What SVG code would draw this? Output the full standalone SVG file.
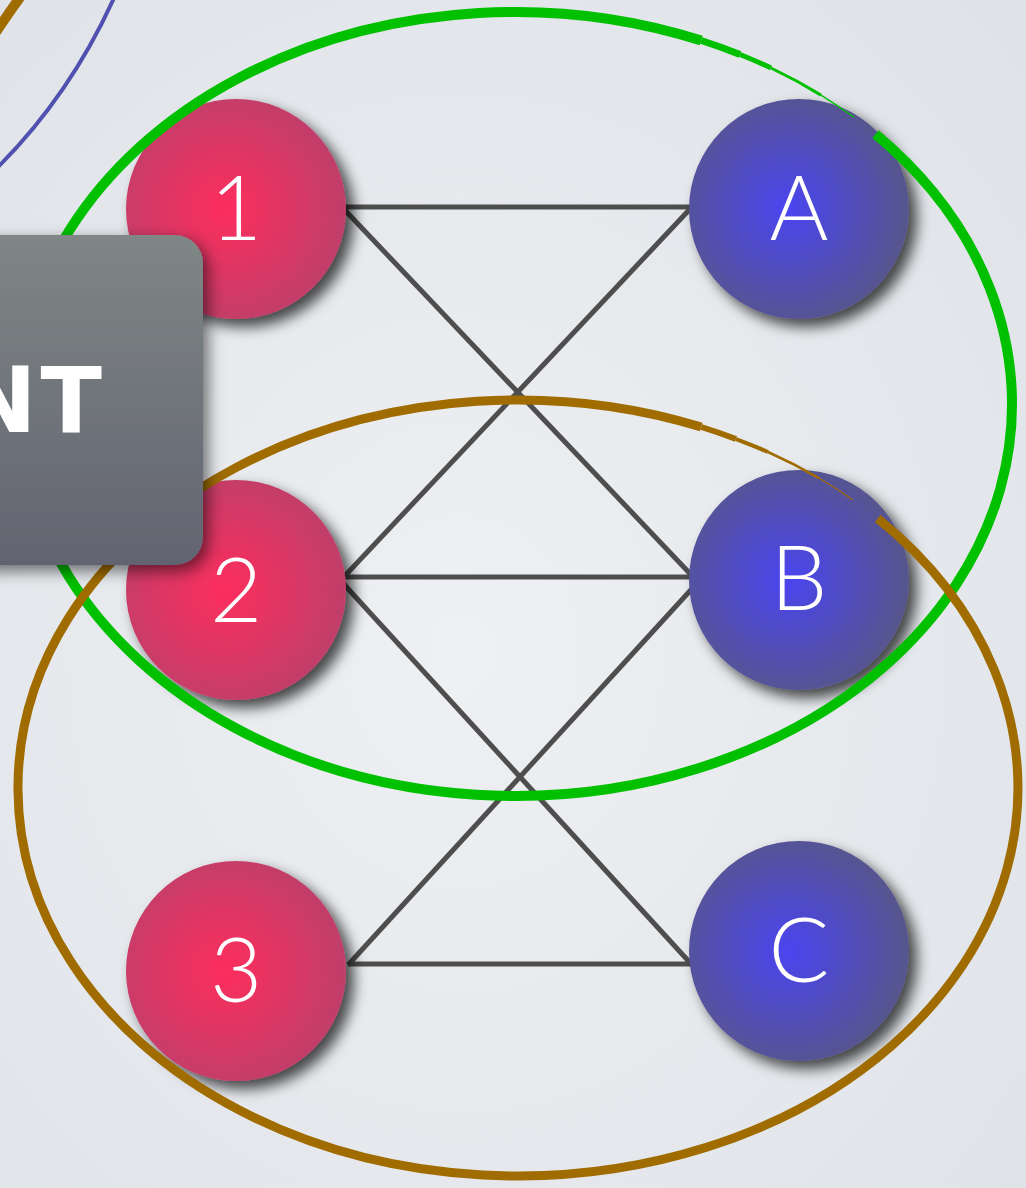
<svg xmlns="http://www.w3.org/2000/svg" width="1026" height="1188" viewBox="0 0 1026 1188">
  <defs>
    <radialGradient id="bg" cx="0.45" cy="0.55" r="0.75">
      <stop offset="0" stop-color="#eef0f3"/>
      <stop offset="1" stop-color="#dfe2e7"/>
    </radialGradient>
    <radialGradient id="pink" cx="0.45" cy="0.5" r="0.55">
      <stop offset="0" stop-color="#fd2d5e"/>
      <stop offset="1" stop-color="#bf3f69"/>
    </radialGradient>
    <radialGradient id="blue" cx="0.45" cy="0.5" r="0.55">
      <stop offset="0" stop-color="#4b44f0"/>
      <stop offset="1" stop-color="#56558c"/>
    </radialGradient>
    <linearGradient id="box" x1="0" y1="0" x2="0" y2="1">
      <stop offset="0" stop-color="#7f8685"/>
      <stop offset="1" stop-color="#626471"/>
    </linearGradient>
    <filter id="shadow" x="-30%" y="-30%" width="160%" height="160%">
      <feDropShadow dx="8" dy="8" stdDeviation="7" flood-color="#000" flood-opacity="0.7"/>
    </filter>
    <filter id="boxshadow" x="-30%" y="-30%" width="160%" height="160%">
      <feDropShadow dx="5" dy="6" stdDeviation="8" flood-color="#000" flood-opacity="0.55"/>
    </filter>
  </defs>
  <style>
    .conn { stroke: #4e4e4e; stroke-width: 5; fill: none; stroke-linecap: butt; }
    .lbl { font-family: "Lato", "Open Sans", "Liberation Sans", sans-serif; font-weight: 300; font-size: 90px; fill: #ffffff; text-anchor: middle; }
    .green { stroke: #00c000; fill: none; stroke-linecap: butt; }
    .brown { stroke: #a06c00; fill: none; stroke-linecap: butt; }
  </style>

  <rect x="0" y="0" width="1026" height="1188" fill="url(#bg)"/>

  <!-- partial shapes in the top-left corner -->
  <path d="M-4,32 Q8,14 21,-4" stroke="#a06c00" stroke-width="10" fill="none"/>
  <path d="M114,-2 Q70,95 -2,167" stroke="#5050b0" stroke-width="4" fill="none"/>

  <g id="connectors">
    <line class="conn" x1="340" y1="207" x2="690" y2="207"/>
    <line class="conn" x1="340" y1="205" x2="697" y2="581"/>
    <line class="conn" x1="690" y1="209" x2="340" y2="581"/>
    <line class="conn" x1="340" y1="577" x2="697" y2="577"/>
    <line class="conn" x1="340" y1="580" x2="693" y2="966"/>
    <line class="conn" x1="699" y1="581" x2="348" y2="965"/>
    <line class="conn" x1="348" y1="964" x2="692" y2="964"/>
  </g>

  <g id="node-1" filter="url(#shadow)">
    <circle cx="236" cy="209" r="110" fill="url(#pink)"/>
    <text class="lbl" x="236" y="240">1</text>
  </g>
  <g id="node-2" filter="url(#shadow)">
    <circle cx="236" cy="590" r="110" fill="url(#pink)"/>
    <text class="lbl" x="236" y="622">2</text>
  </g>
  <g id="node-3" filter="url(#shadow)">
    <circle cx="236" cy="971" r="110" fill="url(#pink)"/>
    <text class="lbl" x="236" y="1002">3</text>
  </g>
  <g id="node-A" filter="url(#shadow)">
    <circle cx="799" cy="209" r="110" fill="url(#blue)"/>
    <text class="lbl" x="799" y="240">A</text>
  </g>
  <g id="node-B" filter="url(#shadow)">
    <circle cx="799" cy="580" r="110" fill="url(#blue)"/>
    <text class="lbl" x="799" y="610">B</text>
  </g>
  <g id="node-C" filter="url(#shadow)">
    <circle cx="799" cy="951" r="110" fill="url(#blue)"/>
    <text class="lbl" x="799" y="982">C</text>
  </g>

  <g id="group-green">
    <path class="green" stroke-width="10" d="M875.5,134.1 A497,392 0 1 1 701.2,40.5"/>
    <path class="green" stroke-width="7" d="M701.2,40.5 A497,392 0 0 1 740,54.5"/>
    <path class="green" stroke-width="5" d="M740,54.5 A497,392 0 0 1 771,68"/>
    <path class="green" stroke-width="3" d="M771,68 A497,392 0 0 1 821,95.1"/>
    <path class="green" stroke-width="1.3" d="M821,95.1 A497,392 0 0 1 853.9,117.3"/>
  </g>

  <g id="group-brown">
    <path class="brown" stroke-width="9" d="M877.7,518.5 A500,388 0 1 1 701.3,427"/>
    <path class="brown" stroke-width="6" d="M701.3,427 A500,388 0 0 1 736,439"/>
    <path class="brown" stroke-width="4" d="M736,439 A500,388 0 0 1 768,452"/>
    <path class="brown" stroke-width="2.5" d="M768,452 A500,388 0 0 1 818.9,478.1"/>
    <path class="brown" stroke-width="1.2" d="M818.9,478.1 A500,388 0 0 1 852.6,499.7"/>
  </g>

  <g id="label-box" filter="url(#boxshadow)">
    <rect x="-40" y="235" width="243" height="330" rx="28" ry="28" fill="url(#box)"/>
    <text x="106" y="432" font-family="DejaVu Sans, Liberation Sans, sans-serif" font-weight="bold" font-size="90" fill="#ffffff" text-anchor="end" letter-spacing="4">NT</text>
  </g>
</svg>
